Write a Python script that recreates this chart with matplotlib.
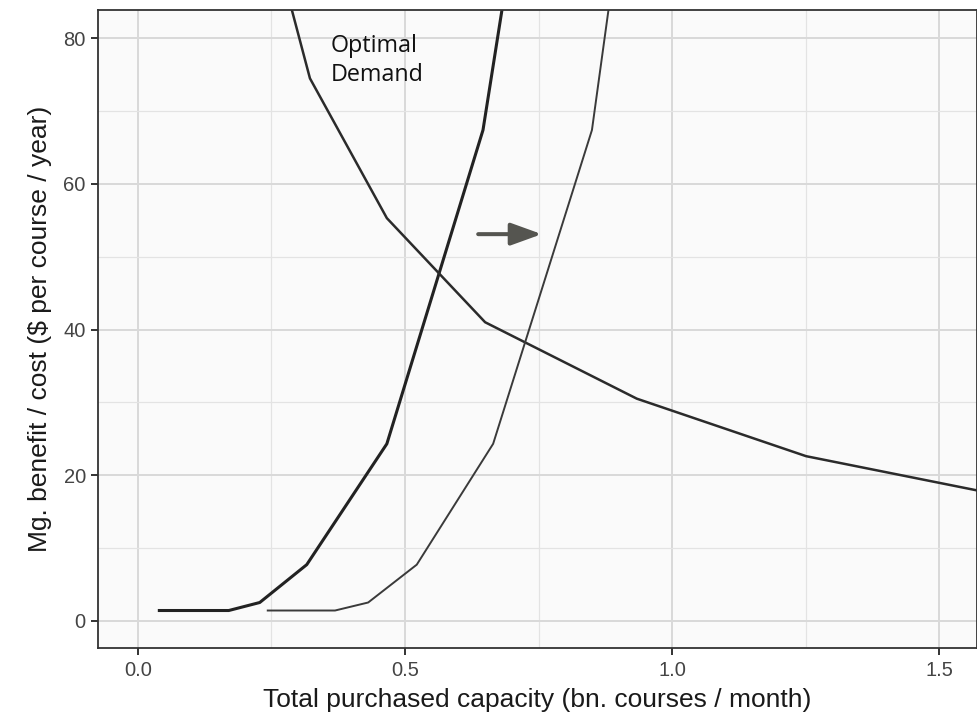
import matplotlib
matplotlib.use("Agg")
import matplotlib.pyplot as plt

# curve data
supply_x = [0.04, 0.17, 0.228, 0.316, 0.466, 0.646, 0.91]
supply_y = [1.4, 1.4, 2.5, 7.7, 24.3, 67.4, 190]

supply_new_x = [0.243, 0.369, 0.431, 0.522, 0.665, 0.85, 1.08]
supply_new_y = [1.4, 1.4, 2.5, 7.7, 24.3, 67.4, 190]

demand_x = [0.194, 0.322, 0.466, 0.65, 0.934, 1.251, 1.571, 1.75]
demand_y = [110, 74.5, 55.3, 41.0, 30.5, 22.6, 17.9, 15.5]

x_ticks = [0.0, 0.5, 1.0, 1.5]
x_tick_labels = ["0.0", "0.5", "1.0", "1.5"]
y_ticks = [0, 20, 40, 60, 80]

arrow_from = (0.637, 53.1)
arrow_to = (0.756, 53.1)
label_pos = (0.361, 74.1)

fig = plt.figure(figsize=(9.78, 7.25), dpi=100)
ax = fig.add_axes([0.1005, 0.1058, 0.8985, 0.8804])
ax.set_facecolor("#fafafa")

ax.set_xlim(-0.0743, 1.571)
ax.set_ylim(-3.79, 83.89)

ax.set_xticks(x_ticks)
ax.set_xticklabels(x_tick_labels)
ax.set_yticks(y_ticks)
ax.set_xticks([0.25, 0.75, 1.25], minor=True)
ax.set_yticks([10, 30, 50, 70], minor=True)

ax.grid(which="major", color="#d9d9d9", linewidth=1.4)
ax.grid(which="minor", color="#e3e3e3", linewidth=0.9)
ax.set_axisbelow(True)

for s in ax.spines.values():
    s.set_color("#333333")
    s.set_linewidth(1.3)

ax.tick_params(which="major", length=5, width=1.4, color="#333333",
               labelsize=14.5, labelcolor="#444444", pad=4)
ax.tick_params(which="minor", length=0)
for lab in ax.get_xticklabels() + ax.get_yticklabels():
    lab.set_family("Liberation Sans")

ax.plot(supply_x, supply_y, color="#222222", linewidth=2.2, solid_joinstyle="round")
ax.plot(demand_x, demand_y, color="#2b2b2b", linewidth=1.8, solid_joinstyle="round")
ax.plot(supply_new_x, supply_new_y, color="#3a3a3a", linewidth=1.4, solid_joinstyle="round")

ax.annotate("", xy=arrow_to, xytext=arrow_from,
            arrowprops=dict(arrowstyle="-|>,head_length=0.94,head_width=0.34",
                            mutation_scale=20, lw=2.9, color="#555550",
                            shrinkA=0, shrinkB=0))

ax.text(label_pos[0], label_pos[1], "Optimal\nDemand", family="Open Sans",
        fontsize=16.8, color="#111111", ha="left", va="baseline", linespacing=1.3)

ax.set_xlabel("Total purchased capacity (bn. courses / month)", family="Liberation Sans",
              fontsize=19, color="#1a1a1a", labelpad=6)
ax.set_ylabel("Mg. benefit / cost ($ per course / year)", family="Liberation Sans",
              fontsize=19, color="#1a1a1a", labelpad=8)

fig.savefig("out.png", dpi=100, facecolor="white")
